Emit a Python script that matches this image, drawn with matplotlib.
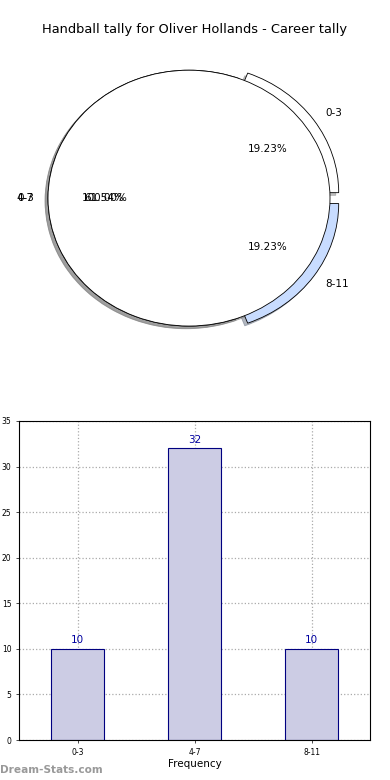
import matplotlib
matplotlib.use('Agg')
import matplotlib.pyplot as plt

# data
categories = ['0-3', '4-7', '8-11']
games = [10, 32, 10]
pie_colors = ['white', 'white', '#c8dcff']
pie_explode = [0.075, 0, 0.075]
overlay_label = ['0-3']

title = 'Handball tally for Oliver Hollands - Career tally'

fig = plt.figure(figsize=(3.9, 7.8), dpi=100)
fig.text(0.5, 1 - 30 / 780, title, ha='center', va='center', fontsize=9.4)

shadow = {'ox': -0.015, 'oy': -0.015, 'shade': 0.5}

# pie (stretched, not equal aspect, like the original)
ax1 = fig.add_axes([12.75 / 390, 0.541, 352.5 / 390, 0.410])
ax1.pie(games, labels=categories, colors=pie_colors, explode=pie_explode,
        autopct='%1.2f%%', shadow=shadow, startangle=0,
        wedgeprops={'edgecolor': 'black', 'linewidth': 0.6},
        textprops={'fontsize': 7.5})
ax1.pie([1], labels=overlay_label, colors=['white'], autopct='%1.2f%%',
        shadow=shadow, startangle=0,
        wedgeprops={'edgecolor': 'black', 'linewidth': 0.6},
        textprops={'fontsize': 7.5})
ax1.set_aspect('auto')
ax1.set_xlim(-1.25, 1.25)
ax1.set_ylim(-1.25, 1.25)
ax1.axis('off')

# bar chart
ax2 = fig.add_axes([19 / 390, 40 / 780, 351 / 390, 319 / 780])
x = range(len(categories))
ax2.bar(x, games, width=0.45, color='#ccccE4', edgecolor='#000080', linewidth=0.8,
        zorder=2)
for i, v in zip(x, games):
    ax2.text(i, v + 0.4, str(v), ha='center', va='bottom', color='#0000a0',
             fontsize=7.5, zorder=3)
ax2.set_xlim(-0.5, 2.5)
ax2.set_ylim(0, 35)
ax2.set_xticks(list(x))
ax2.set_xticklabels(categories)
ax2.set_yticks(range(0, 36, 5))
ax2.tick_params(labelsize=5.5, length=2, width=0.5)
ax2.grid(True, linestyle=':', color='#aaaaaa', linewidth=0.9, zorder=0)
ax2.set_axisbelow(True)
ax2.set_xlabel('Frequency', fontsize=7.5, labelpad=2)
ax2.set_ylabel('Games Played', fontsize=7.5)
ax2.yaxis.set_label_coords(-0.055, 0.5)

fig.text(0.0, 1 - 770 / 780, 'Dream-Stats.com', ha='left', va='center',
         fontsize=7.6, color='#999999', fontweight='bold')

fig.savefig('out.png', dpi=100)
